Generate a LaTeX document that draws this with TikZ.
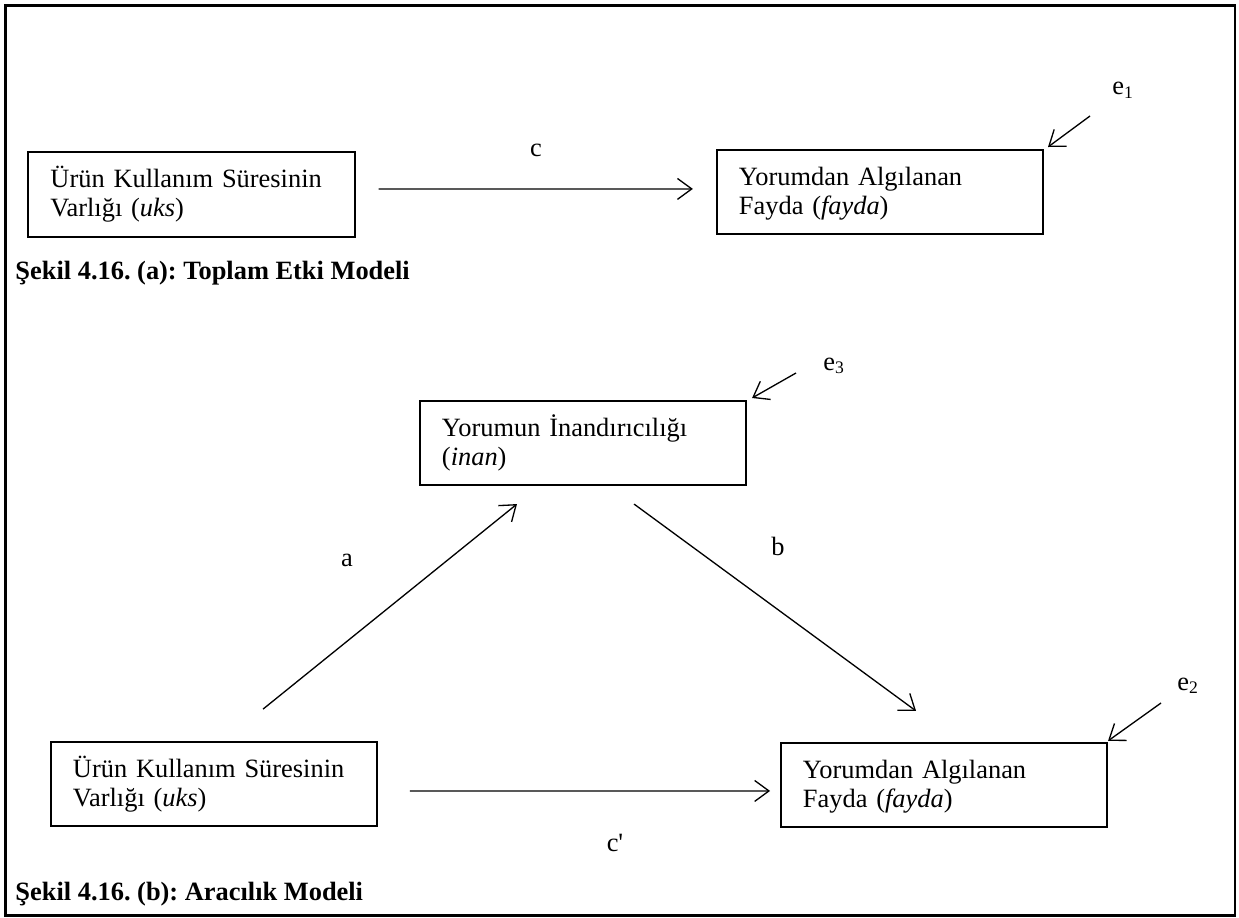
\documentclass[tikz,border=0pt]{standalone}
\usepackage{fontspec}
\setmainfont{Liberation Serif}
\usetikzlibrary{arrows.meta,positioning}

% struts that fix the first and last line of a box
\newcommand{\firstln}{\rule{0pt}{10.84pt}}
\newcommand{\lastln}{\rule[-4pt]{0pt}{4pt}}
\frenchspacing

\begin{document}
\begin{tikzpicture}[x=0.4545pt,y=-0.4545pt,
    font=\fontsize{12pt}{13.2pt}\selectfont,
    varbox/.style={draw, line width=0.9pt, text width=128.2pt, inner xsep=10pt,
      minimum height=38.2pt, align=left},
    arr/.style={line width=0.6pt, -{Straight Barb[length=6.5pt,width=9.5pt]}},
    lbl/.style={inner sep=0pt},
    caption/.style={anchor=base west, inner sep=0pt, font=\fontsize{12pt}{13.2pt}\selectfont\bfseries}]

    \useasboundingbox (0,0) rectangle (1239,918);

    % Outer frame
    \draw[line width=1pt] (5.5,5.5) rectangle (1235,915.5);

    % (a) Total effect model
    \node[varbox] (uksA) at (191.5,194.5) {\firstln Ürün Kullanım Süresinin\\Varlığı (\textit{uks})\lastln};
    \node[varbox] (faydaA) at (880,192) {\firstln Yorumdan Algılanan\\Fayda (\textit{fayda})\lastln};

    \draw[arr] ([xshift=10.5pt,yshift=2.5pt]uksA.east) -- ([xshift=-10.5pt,yshift=1.4pt]faydaA.west);
    \node[lbl] (cA) at (536,150) {c};

    % Error term e1
    \node[lbl, anchor=base west] (e1) at (1112,95) {e\textsubscript{1}};
    \coordinate (e1tail) at (1090,116);
    \draw[arr] (e1tail) -- ([xshift=1.8pt,yshift=0.9pt]faydaA.north east);

    \node[caption] (capA) at (15,279) {Şekil 4.16. (a): Toplam Etki Modeli};

    % (b) Mediation model
    \node[varbox] (inan) at (583,443) {\firstln Yorumun İnandırıcılığı\\(\textit{inan})\lastln};
    \node[varbox] (uksB) at (214,784) {\firstln Ürün Kullanım Süresinin\\Varlığı (\textit{uks})\lastln};
    \node[varbox] (faydaB) at (944,785) {\firstln Yorumdan Algılanan\\Fayda (\textit{fayda})\lastln};

    % Paths a, b and c'
    \draw[arr] ([xshift=22.3pt,yshift=14.5pt]uksB.north) -- ([xshift=-30pt,yshift=-8.2pt]inan.south);
    \draw[arr] ([xshift=23.2pt,yshift=-8.2pt]inan.south) -- ([xshift=-12.7pt,yshift=14.1pt]faydaB.north);
    \draw[arr] ([xshift=14.5pt,yshift=-3.2pt]uksB.east) -- ([xshift=-4.5pt,yshift=-2.7pt]faydaB.west);

    \node[lbl] (aB) at (347,560) {a};
    \node[lbl] (bB) at (778,546) {b};
    \node[lbl] (cB) at (615,843) {c\textquotesingle};

    % Error terms e3 and e2
    \node[lbl, anchor=base west] (e3) at (823,370) {e\textsubscript{3}};
    \coordinate (e3tail) at (796,373);
    \draw[arr] (e3tail) -- ([xshift=2.3pt,yshift=0.9pt]inan.north east);

    \node[lbl, anchor=base west] (e2) at (1177,690) {e\textsubscript{2}};
    \coordinate (e2tail) at (1161,703);
    \draw[arr] (e2tail) -- ([yshift=0.5pt]faydaB.north east);

    \node[caption] (capB) at (15,900) {Şekil 4.16. (b): Aracılık Modeli};

\end{tikzpicture}
\end{document}
